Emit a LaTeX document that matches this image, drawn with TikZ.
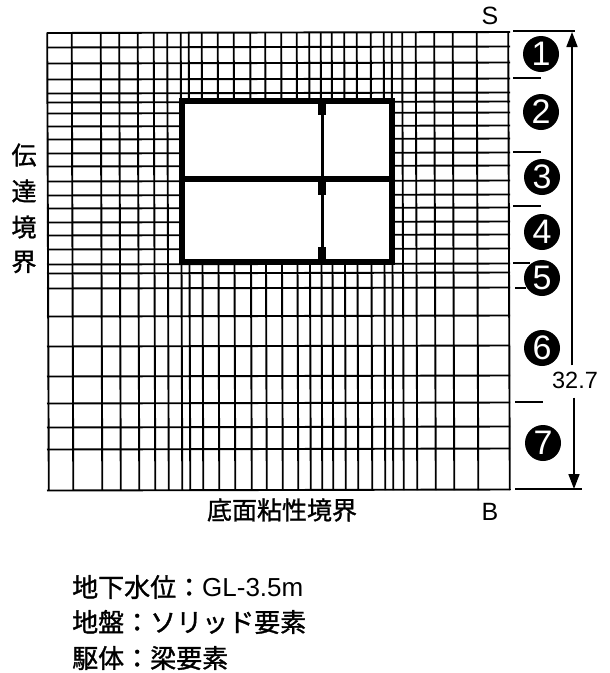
\documentclass[tikz,border=0pt]{standalone}
\usepackage{fontspec}
\setmainfont{Liberation Sans}
\newfontfamily\cjk[FakeBold=1.2]{Noto Sans CJK JP}
\usetikzlibrary{arrows.meta,positioning,calc}
\tikzset{
    gridline/.style={line width=1.9pt},
    wall/.style={line width=6pt},
    stub/.style={line width=8pt},
    tick/.style={line width=1.8pt},
    dimline/.style={line width=1.7pt,-{Triangle[length=15pt,width=11pt]}},
    zone/.style={circle,fill=black,text=white,minimum size=36pt,inner sep=0pt,font=\fontsize{34}{34}\selectfont},
    jptext/.style={inner sep=0pt,font=\cjk\fontsize{25}{26}\selectfont},
    notetext/.style={anchor=west,inner sep=0pt,font=\cjk\fontsize{26}{27}\selectfont},
    lat/.style={inner sep=0pt,font=\fontsize{25}{26}\selectfont}
}
\begin{document}
\begin{tikzpicture}[x=1pt,y=-1pt]
    \useasboundingbox[fill=white] (0,0) rectangle (610,673);
    % mesh
    \foreach \x in {48,72.5,101.5,120,138.5,154.5,168,181.5,189.5,202.5,218.5,234.5,251,266,282,297.5,310,321.5,332.5,345,357.5,371.5,384.5,392.5,403,416.5,435,453.5,477.5,509}
        \draw[gridline] (\x-0.8,32.5) -- (\x+0.8,490);
    \foreach \y in {32.5,47,63,79,93,102,113,126,139,153,166,181,195,208,222,235,249,264,273,288,316,346,376,403,427,449,490}
        \draw[gridline] (47,\y+0.5) -- (510,\y-0.5);
    % frame
    \draw[wall,fill=white] (182,100.5) rectangle (392,262);
    \draw[wall] (182,179) -- (392,179);
    \draw[line width=3pt] (322,100) -- (322,262);
    \foreach \a/\b in {100/115,179/195,247/262}
        \draw[stub] (322,\a) -- (322,\b);
    % right side
    \foreach \n/\x/\y/\t in {1/541/54/1,2/541/112/2,3/542/177/3,4/542/232/4,5/542/278/5,6/542/348/6,7/543/443/7}
        \node[zone] (c\n) at (\x,\y) {\t};
    \coordinate (dimtop) at (572,32);
    \coordinate (dimbot) at (574,489);
    \node[lat,font=\fontsize{23.5}{24}\selectfont] (len) at (575,380) {32.7};
    \draw[dimline] (len.north -| dimtop) ++(0,-6) -- (dimtop);
    \draw[dimline] (len.south -| dimbot) ++(0,9) -- (dimbot);
    \draw[tick] (513,31) -- (575,31);
    \draw[tick] (513,78) -- (541,78);
    \draw[tick] (513,152) -- (541,152);
    \draw[tick] (513,206) -- (541,206);
    \draw[tick] (513,263) -- (530,263);
    \draw[tick] (515,288) -- (526,288);
    \draw[tick] (515,402) -- (543,402);
    \draw[tick] (515,489) -- (582,489);
    % labels
    \node[lat] (s) at (490,16) {S};
    \node[lat] (b) at (490,512) {B};
    \node[jptext] (v1) at (24,155) {伝};
    \node[jptext] (v2) at (24,191) {達};
    \node[jptext] (v3) at (24,227) {境};
    \node[jptext] (v4) at (24,262) {界};
    \node[jptext] (base) at (282,510) {底面粘性境界};
    \node[notetext] (note1) at (72,587) {地下水位：{\rmfamily GL-3.5m}};
    \node[notetext] (note2) at (72,622) {地盤：ソリッド要素};
    \node[notetext] (note3) at (72,658) {駆体：梁要素};
\end{tikzpicture}
\end{document}
